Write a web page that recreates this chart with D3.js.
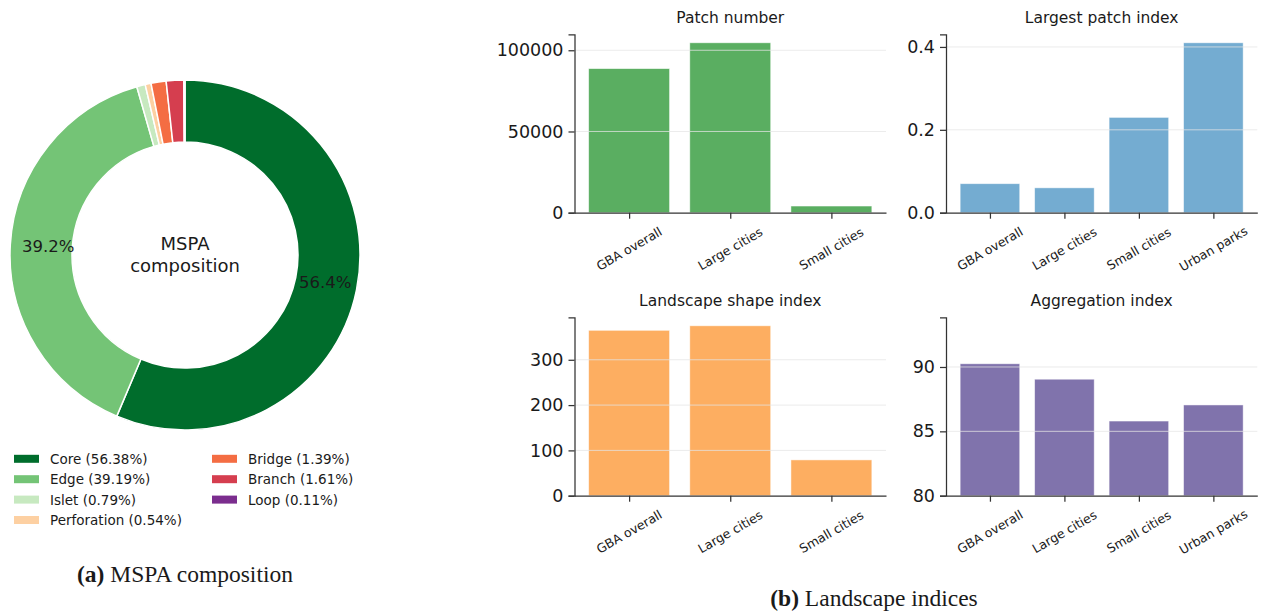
<!DOCTYPE html>
<html>
<head>
<meta charset="utf-8">
<script src="https://cdn.jsdelivr.net/npm/d3@7"></script>
<style>
  html, body { margin: 0; padding: 0; background: #fff; }
  svg { display: block; }
  text { font-family: "DejaVu Sans", sans-serif; fill: #1a1a1a; }
  .caption { font-family: "Liberation Serif", "Times New Roman", serif; }
</style>
</head>
<body>
<svg id="chart" width="1263" height="613"></svg>
<script>
// ---- MSPA composition (percent of green area) ----
const mspaClasses = ["Core", "Edge", "Islet", "Perforation", "Bridge", "Branch", "Loop"];
const mspaShares  = [56.38, 39.19, 0.79, 0.54, 1.39, 1.61, 0.11];
const mspaColors  = ["#006d2c", "#74c476", "#c7e9c0", "#fdd0a2", "#f46d43", "#d53e4f", "#7b2d8e"];

// ---- Landscape indices ----
const groupsThree = ["GBA overall", "Large cities", "Small cities"];
const groupsFour  = ["GBA overall", "Large cities", "Small cities", "Urban parks"];
const patchNumber       = [88700, 104600, 4100];
const largestPatchIndex = [0.07, 0.06, 0.23, 0.41];
const shapeIndex        = [365, 375, 79];
const aggregationIndex  = [90.25, 89.05, 85.8, 87.05];
const patchTicks = [0, 50000, 100000];
const lpiTicks   = [0.0, 0.2, 0.4];
const lsiTicks   = [0, 100, 200, 300];
const aiTicks    = [80, 85, 90];

const svg = d3.select("#chart");

// ================= Donut =================
const cx = 185, cy = 255, rOuter = 175, rInner = 113;
const pie = d3.pie().sort(null).value(d => d).startAngle(0).endAngle(2 * Math.PI);
const arcs = pie(mspaShares);
const arcGen = d3.arc().innerRadius(rInner).outerRadius(rOuter);
const gDonut = svg.append("g").attr("transform", `translate(${cx},${cy})`);
gDonut.selectAll("path.slice")
  .data(arcs)
  .join("path")
  .attr("class", "slice")
  .attr("d", arcGen)
  .attr("fill", (d, i) => mspaColors[i])
  .attr("stroke", "#fff")
  .attr("stroke-width", 1.5);

// percentage labels for the large classes
const labelArc = d3.arc().innerRadius(rOuter * 0.8).outerRadius(rOuter * 0.8);
gDonut.selectAll("text.pct")
  .data(arcs.filter(d => d.data > 5))
  .join("text")
  .attr("class", "pct")
  .attr("transform", d => {
    const [px, py] = labelArc.centroid(d);
    return `translate(${px + 3},${py})`;
  })
  .attr("text-anchor", "middle")
  .attr("dominant-baseline", "central")
  .attr("font-size", 16.5)
  .text(d => d.data.toFixed(1) + "%");

gDonut.append("text").attr("text-anchor", "middle").attr("y", -12)
  .attr("dominant-baseline", "central").attr("font-size", 18).text("MSPA");
gDonut.append("text").attr("text-anchor", "middle").attr("y", 10)
  .attr("dominant-baseline", "central").attr("font-size", 18).text("composition");

// legend, two columns
const legend = svg.append("g");
mspaClasses.forEach((name, i) => {
  const col = i < 4 ? 0 : 1;
  const row = i < 4 ? i : i - 4;
  const x = col === 0 ? 14 : 212;
  const y = 458.8 + row * 20.4;
  legend.append("rect").attr("x", x).attr("y", y - 4).attr("width", 25).attr("height", 8)
    .attr("fill", mspaColors[i]);
  legend.append("text").attr("x", x + 36).attr("y", y).attr("dominant-baseline", "central")
    .attr("font-size", 13.5).text(`${name} (${mspaShares[i].toFixed(2)}%)`);
});

// ================= Bar panels =================
function barPanel(opts) {
  const { left, right, top, bottom, cats, values, ticks, yMin, yMax, color, title, fmt } = opts;
  const n = cats.length;
  const pad = 0.05 * (n - 1 + 0.8);
  const x = d3.scaleLinear().domain([-0.4 - pad, n - 1 + 0.4 + pad]).range([left, right]);
  const y = d3.scaleLinear().domain([yMin, yMax]).range([bottom, top]);
  const g = svg.append("g");

  g.selectAll("rect.bar")
    .data(values)
    .join("rect")
    .attr("class", "bar")
    .attr("x", (d, i) => x(i - 0.4))
    .attr("width", x(0.8) - x(0))
    .attr("y", d => y(d))
    .attr("height", d => y(yMin) - y(d))
    .attr("fill", color)
    .attr("stroke", "#fff")
    .attr("stroke-opacity", 0.6)
    .attr("stroke-width", 0.8);

  // horizontal grid drawn over the bars
  g.selectAll("line.grid")
    .data(ticks.filter(t => t !== yMin))
    .join("line")
    .attr("class", "grid")
    .attr("x1", left).attr("x2", right)
    .attr("y1", d => y(d)).attr("y2", d => y(d))
    .attr("stroke", "#e4e4e4")
    .attr("stroke-opacity", 0.75)
    .attr("stroke-width", 1);

  const yAxis = d3.axisLeft(y).tickValues(ticks).tickFormat(fmt).tickSize(6).tickPadding(5);
  const gy = g.append("g").attr("transform", `translate(${left},0)`).call(yAxis);
  gy.select(".domain").attr("stroke", "#333").attr("stroke-width", 1.25);
  gy.selectAll(".tick line").attr("stroke", "#333").attr("stroke-width", 1.25);
  gy.selectAll(".tick text").attr("font-size", 17.5).attr("fill", "#1a1a1a")
    .attr("font-family", "DejaVu Sans, sans-serif");

  const xAxis = d3.axisBottom(x).tickValues(d3.range(n)).tickFormat("").tickSize(6).tickSizeOuter(0);
  const gx = g.append("g").attr("transform", `translate(0,${bottom})`).call(xAxis);
  gx.select(".domain").attr("stroke", "#333").attr("stroke-width", 1.25);
  gx.selectAll(".tick line").attr("stroke", "#333").attr("stroke-width", 1.25);

  g.selectAll("text.cat")
    .data(cats)
    .join("text")
    .attr("class", "cat")
    .attr("transform", (d, i) => `translate(${x(i)},${bottom + 36}) rotate(-30)`)
    .attr("text-anchor", "middle")
    .attr("dominant-baseline", "central")
    .attr("font-size", 12.5)
    .text(d => d);

  g.append("text")
    .attr("x", (left + right) / 2)
    .attr("y", top - 11)
    .attr("text-anchor", "middle")
    .attr("font-size", 15.5)
    .text(title);
}

barPanel({
  left: 574.5, right: 886, top: 34.3, bottom: 212.7,
  cats: groupsThree, values: patchNumber, ticks: patchTicks,
  yMin: 0, yMax: d3.max(patchNumber) * 1.05, color: "#5aae61",
  title: "Patch number", fmt: d3.format("d")
});
barPanel({
  left: 946, right: 1257.3, top: 34.3, bottom: 212.7,
  cats: groupsFour, values: largestPatchIndex, ticks: lpiTicks,
  yMin: 0, yMax: d3.max(largestPatchIndex) * 1.05, color: "#74acd1",
  title: "Largest patch index", fmt: d3.format(".1f")
});
barPanel({
  left: 574.5, right: 886, top: 317.3, bottom: 495.7,
  cats: groupsThree, values: shapeIndex, ticks: lsiTicks,
  yMin: 0, yMax: d3.max(shapeIndex) * 1.05, color: "#fdae61",
  title: "Landscape shape index", fmt: d3.format("d")
});
barPanel({
  left: 946, right: 1257.3, top: 317.3, bottom: 495.7,
  cats: groupsFour, values: aggregationIndex, ticks: aiTicks,
  yMin: 80, yMax: d3.max(aggregationIndex) * 1.04, color: "#8073ac",
  title: "Aggregation index", fmt: d3.format("d")
});

// ================= Sub-captions =================
function caption(xc, yb, tag, rest) {
  const t = svg.append("text").attr("class", "caption").attr("x", xc).attr("y", yb)
    .attr("text-anchor", "middle").attr("font-size", 23.5);
  t.append("tspan").attr("font-weight", "bold").text(tag);
  t.append("tspan").text(" " + rest);
}
caption(185, 582, "(a)", "MSPA composition");
caption(874, 606, "(b)", "Landscape indices");
</script>
</body>
</html>
